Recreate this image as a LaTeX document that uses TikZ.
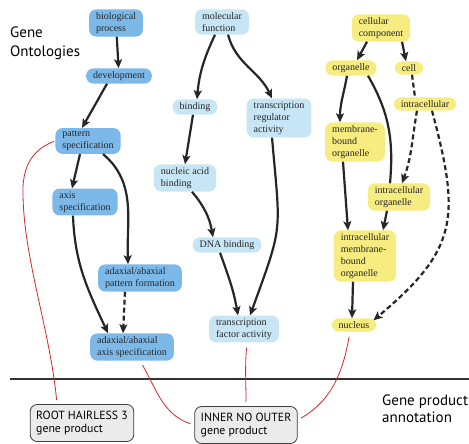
\documentclass[tikz,border=0pt]{standalone}
\usepackage{fontspec}
\setmainfont{Liberation Serif}
\setsansfont{PT Sans}
\usetikzlibrary{arrows.meta}

\definecolor{bpblue}{HTML}{7DB9E8}
\definecolor{mfblue}{HTML}{C6E6F5}
\definecolor{ccyellow}{HTML}{F7EC80}
\definecolor{gpgray}{HTML}{EBEBEB}
\definecolor{annotred}{HTML}{D7262B}

\begin{document}
\begin{tikzpicture}[
    x=1pt, y=1pt,
    term/.style={rounded corners=7pt, inner xsep=7pt, inner ysep=3pt, align=left,
        font=\fontsize{10}{12}\selectfont, text=black!85},
    bp term/.style={term, fill=bpblue},
    mf term/.style={term, fill=mfblue},
    cc term/.style={term, fill=ccyellow},
    gene product/.style={draw=black!75, line width=.8pt, fill=gpgray, rounded corners=7pt,
        align=left, inner xsep=6pt, minimum height=37pt, font=\sffamily\fontsize{11.8}{13.5}\selectfont},
    is a plain/.style={line width=2.2pt, black!85},
    is a/.style={is a plain, -{Stealth[length=9pt,width=8pt,inset=2pt]}},
    part of plain/.style={is a plain, dash pattern=on 5pt off 3pt},
    part of/.style={is a, dash pattern=on 5pt off 3pt},
    annotation/.style={annotred, line width=.8pt, shorten <=5pt, shorten >=4pt},
]
\useasboundingbox (0,0) rectangle (469,-444);

% biological process
\node[bp term] (biop) at (116,-23) {biological\\process};
\node[bp term] (dev)  at (119,-76) {development};
\node[bp term] (pats) at (88,-141) {pattern\\specification};
\node[bp term] (axs)  at (85,-202) {axis\\specification};
\node[bp term] (adpf) at (140,-278) {adaxial/abaxial\\pattern formation};
\node[bp term] (adas) at (132,-347) {adaxial/abaxial\\axis specification};

% molecular function
\node[mf term] (molf) at (222,-22) {molecular\\function};
\node[mf term] (bind) at (195,-107) {binding};
\node[mf term] (trra) at (279,-118) {transcription\\regulator\\activity};
\node[mf term] (nab)  at (185,-178) {nucleic acid\\binding};
\node[mf term] (dnab) at (227,-245) {DNA binding};
\node[mf term] (tfa)  at (244,-329) {transcription\\factor activity};

% cellular component
\node[cc term] (cellc) at (381,-28) {cellular\\component};
\node[cc term] (org)   at (351,-68) {organelle};
\node[cc term] (cell)  at (409,-68) {cell};
\node[cc term] (intra) at (425,-104) {intracellular};
\node[cc term] (mbo)   at (355,-142) {membrane-\\bound\\organelle};
\node[cc term] (io)    at (399,-197) {intracellular\\organelle};
\node[cc term] (imbo)  at (365,-256) {intracellular\\membrane-\\bound\\organelle};
\node[cc term] (nuc)   at (354,-325) {nucleus};

% gene products
\node[gene product] (rh3) at (82,-423) {ROOT HAIRLESS 3\\gene product};
\node[gene product] (ino) at (246,-425) {INNER NO OUTER\\gene product};

\node[anchor=west, align=left, inner sep=0pt, font=\sffamily\fontsize{15}{19}\selectfont] (ontol) at (10,-43) {Gene\\Ontologies};
\node[anchor=west, align=left, inner sep=0pt, font=\sffamily\fontsize{15}{17}\selectfont] (annot) at (382,-409) {Gene product\\annotation};

\draw[black!80, line width=1.1pt] (10,-379) -- (469,-379);

% is-a / part-of links
\draw[is a] (biop) -- (dev);
\draw[is a] ([xshift=-12pt]dev.south) -- ([xshift=-6pt]pats.north);
\draw[is a] ([xshift=-8pt]pats.south) -- ([xshift=-13pt]axs.north);
\draw[is a] ([xshift=15pt]pats.south) to[out=-40,in=92] ([xshift=-12pt]adpf.north);
\draw[is a] ([xshift=-12pt]axs.south) to[out=-88,in=115] ([xshift=-24pt]adas.north);
\draw[part of] ([xshift=-15pt]adpf.south) -- ([xshift=-9pt]adas.north);

\draw[is a] ([xshift=-7pt]molf.south) to[out=-115,in=85] ([xshift=2pt]bind.north);
\draw[is a] ([xshift=6pt]molf.south) to[out=-75,in=115] ([xshift=-7pt]trra.north);
\draw[is a] ([xshift=-2pt]bind.south) -- (nab.north);
\draw[is a] ([xshift=7pt]nab.south) to[out=-50,in=100] ([xshift=-14pt]dnab.north);
\draw[is a] ([xshift=-7pt]dnab.south) to[out=-70,in=100] ([xshift=-6pt]tfa.north);
\draw[is a] ([xshift=-7pt]trra.south) to[out=-85,in=70,looseness=1.4] ([xshift=6pt]tfa.north);

\draw[is a] ([xshift=-14pt]cellc.south) -- ([xshift=6pt]org.north);
\draw[is a] ([xshift=21pt]cellc.south) -- ([xshift=-3pt]cell.north);
\draw[is a] ([xshift=-4pt]org.south) to[out=-100,in=90] ([xshift=-15pt]mbo.north);
\draw[is a plain] ([xshift=17pt]org.south) to[out=-60,in=85] ([xshift=-9pt]io.north);
\draw[is a] ([xshift=-12pt]mbo.south) -- ([xshift=-17pt]imbo.north);
\draw[part of plain] ([xshift=3pt]cell.south) -- ([xshift=-10pt]intra.north);
\draw[part of] ([xshift=-8pt]intra.south) to[out=-100,in=70] ([xshift=3pt]io.north);
\draw[part of] ([xshift=7pt]intra.south) to[out=-75,in=40,looseness=1.3] ([xshift=-3pt,yshift=-2pt]nuc.north east);
\draw[is a] ([xshift=-12pt]io.south) -- ([xshift=18pt]imbo.north);
\draw[is a] ([xshift=-12pt]imbo.south) -- ([xshift=-2pt]nuc.north);

% annotations
\draw[annotation, shorten <=1pt] (pats.west) .. controls (30,-150) and (22,-170) .. (23,-195)
    .. controls (24,-260) and (50,-330) .. ([xshift=-25pt]rh3.north);
\draw[annotation] ([xshift=8pt]adas.south) to[out=-60,in=162] (ino.west);
\draw[annotation] ([xshift=3pt]tfa.south) to[out=-95,in=90] (ino.north);
\draw[annotation] ([xshift=-4pt]nuc.south) to[out=-100,in=30] ([yshift=5pt]ino.east);
\end{tikzpicture}
\end{document}
